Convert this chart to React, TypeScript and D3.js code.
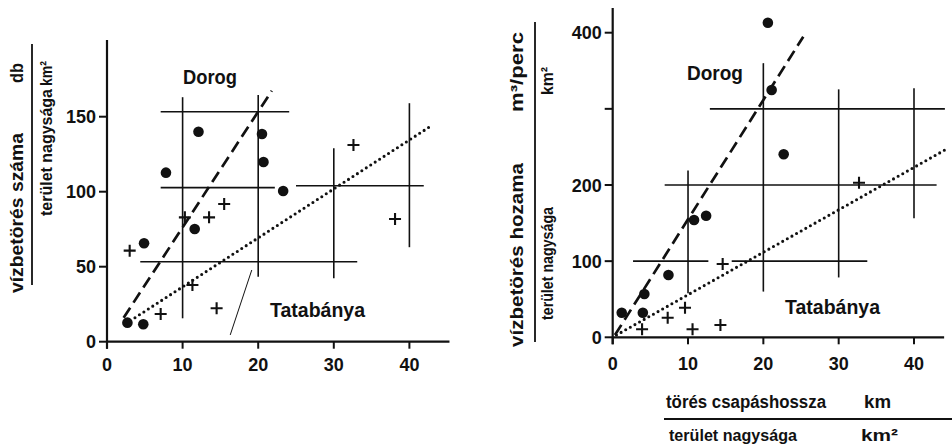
import React from "react";
import * as d3 from "d3";

// ---------- DATA ----------
// Left panel: vízbetörés száma / terület (db/km²) vs törés csapáshossza / terület
const leftDorogX = [12.1, 7.8, 20.5, 20.7, 23.3, 11.6, 4.9, 2.7, 4.8];
const leftDorogY = [140, 112.7, 138.5, 119.8, 100.5, 75.1, 65.6, 12.7, 11.6];
const leftTataX = [3.0, 10.3, 13.5, 15.5, 11.3, 7.1, 14.5, 32.6, 38.1];
const leftTataY = [60.7, 82.9, 82.9, 91.8, 37.8, 18.5, 22.3, 131.1, 81.8];
// regression lines [x1, y1, x2, y2]
const leftDorogLine = [2.2, 16.0, 21.8, 167.3];
const leftTataLine = [3.7, 16.0, 42.6, 143];
// cross-hair segments (value ranges) [x1, y1, x2, y2]
const leftGrid = [
  [7.1, 153.3, 24.1, 153.3],
  [7.1, 102.7, 22.2, 102.7],
  [25, 104, 41.9, 104],
  [4.4, 53.3, 33.1, 53.3],
  [10, 163, 10, 15.6],
  [20, 164.5, 20, 43.3],
  [30, 129, 30, 42.3],
  [40, 159, 40, 63],
];
const leftStray = [19.15, 47.8, 16.3, 4.5];
const leftXTicks = [0, 10, 20, 30, 40];
const leftYTicks = [0, 50, 100, 150];
const leftYTickLabels = ["0", "50", "100", "150"];

// Right panel: vízbetörés hozama / terület (m³/perc / km²)
const rightDorogX = [20.6, 21.1, 22.7, 10.8, 12.4, 7.4, 4.2, 1.2, 4.0];
const rightDorogY = [413, 324.7, 240.3, 154, 159.7, 81.8, 56.9, 32.3, 32.3];
const rightTataX = [3.9, 7.3, 9.6, 10.6, 14.3, 14.6, 32.7];
const rightTataY = [10.5, 25.7, 38.9, 10.5, 16.2, 96.3, 203];
const rightDorogLine = [0.3, 3, 25.3, 394.7];
const rightTataLine = [0.5, 3, 44.1, 246];
const rightGrid = [
  [12.9, 300, 44.1, 300],
  [6.9, 200, 43, 200],
  [2.7, 100, 12.7, 100],
  [15.8, 100, 33.8, 100],
  [10, 219, 10, 58],
  [20, 360, 20, 60],
  [30, 325.6, 30, 78.6],
  [40, 327, 40, 156.5],
];
const rightXTicks = [0, 10, 20, 30, 40];
const rightYTicks = [0, 100, 200, 300, 400];
const rightYTickLabels = ["0", "100", "200", "", "400"];

const FONT = "'Liberation Sans', Arial, Helvetica, sans-serif";

type Panel = {
  x: d3.ScaleLinear<number, number>;
  y: d3.ScaleLinear<number, number>;
  xMax: number;
  yTop: number;
  dotsX: number[];
  dotsY: number[];
  crossX: number[];
  crossY: number[];
  dashed: number[];
  dotted: number[];
  grid: number[][];
  xTicks: number[];
  yTicks: number[];
  yLabels: string[];
  xLabelBaseline: number;
};

function PanelView({ p }: { p: Panel }) {
  const { x, y } = p;
  const x0 = x(0);
  const y0 = y(0);
  const line = d3
    .line<[number, number]>()
    .x((d) => x(d[0]))
    .y((d) => y(d[1]));
  const seg = (s: number[]) =>
    line([
      [s[0], s[1]],
      [s[2], s[3]],
    ]) as string;
  const cs = 6;
  return (
    <g>
      {p.grid.map((s, i) => (
        <path key={"g" + i} d={seg(s)} stroke="#111" strokeWidth={1.6} fill="none" />
      ))}
      <path d={seg(p.dashed)} stroke="#111" strokeWidth={2.7} strokeDasharray="12 6" fill="none" />
      <path
        d={seg(p.dotted)}
        stroke="#111"
        strokeWidth={3.1}
        strokeDasharray="0 5.3"
        strokeLinecap="round"
        fill="none"
      />
      <line x1={x0} x2={x0} y1={p.yTop} y2={y0 + 7} stroke="#111" strokeWidth={2.2} />
      <line x1={x0} x2={x(p.xMax)} y1={y0} y2={y0} stroke="#111" strokeWidth={2.2} />
      {p.yTicks.map((t, i) => (
        <g key={"yt" + i}>
          <line x1={x0 - 8} x2={x0} y1={y(t)} y2={y(t)} stroke="#111" strokeWidth={2} />
          {p.yLabels[i] && (
            <text
              x={x0 - 11}
              y={y(t) + 6.5}
              textAnchor="end"
              fontFamily={FONT}
              fontWeight="bold"
              fontSize={18}
              fill="#111"
            >
              {p.yLabels[i]}
            </text>
          )}
        </g>
      ))}
      {p.xTicks.map((t, i) => (
        <g key={"xt" + i}>
          <line x1={x(t)} x2={x(t)} y1={y0} y2={y0 + 7} stroke="#111" strokeWidth={2} />
          <text
            x={x(t)}
            y={p.xLabelBaseline}
            textAnchor="middle"
            fontFamily={FONT}
            fontWeight="bold"
            fontSize={18}
            fill="#111"
          >
            {String(t)}
          </text>
        </g>
      ))}
      {p.dotsX.map((v, i) => (
        <circle key={"d" + i} cx={x(v)} cy={y(p.dotsY[i])} r={5.3} fill="#111" />
      ))}
      {p.crossX.map((v, i) => {
        const cx = x(v);
        const cy = y(p.crossY[i]);
        return (
          <path
            key={"c" + i}
            d={`M${cx - cs},${cy}H${cx + cs}M${cx},${cy - cs}V${cy + cs}`}
            stroke="#111"
            strokeWidth={2.1}
            fill="none"
          />
        );
      })}
    </g>
  );
}

export default function App() {
  const lx = d3.scaleLinear().domain([0, 40]).range([107, 409.4]);
  const ly = d3.scaleLinear().domain([0, 150]).range([341.7, 116.7]);
  const rx = d3.scaleLinear().domain([0, 40]).range([612.7, 914]);
  const ry = d3.scaleLinear().domain([0, 400]).range([337.3, 32.7]);

  const left: Panel = {
    x: lx,
    y: ly,
    xMax: 45.3,
    yTop: 40,
    dotsX: leftDorogX,
    dotsY: leftDorogY,
    crossX: leftTataX,
    crossY: leftTataY,
    dashed: leftDorogLine,
    dotted: leftTataLine,
    grid: leftGrid,
    xTicks: leftXTicks,
    yTicks: leftYTicks,
    yLabels: leftYTickLabels,
    xLabelBaseline: 371,
  };
  const right: Panel = {
    x: rx,
    y: ry,
    xMax: 44,
    yTop: 8,
    dotsX: rightDorogX,
    dotsY: rightDorogY,
    crossX: rightTataX,
    crossY: rightTataY,
    dashed: rightDorogLine,
    dotted: rightTataLine,
    grid: rightGrid,
    xTicks: rightXTicks,
    yTicks: rightYTicks,
    yLabels: rightYTickLabels,
    xLabelBaseline: 370,
  };

  const strayLine = d3.line<[number, number]>().x((d) => lx(d[0])).y((d) => ly(d[1]))([
    [leftStray[0], leftStray[1]],
    [leftStray[2], leftStray[3]],
  ]) as string;

  const T = (props: any) => (
    <text fontFamily={FONT} fontWeight="bold" fill="#111" {...props} />
  );
  const rot = (xx: number, yy: number) => `translate(${xx},${yy}) rotate(-90)`;

  return (
    <svg
      width={952}
      height={444}
      viewBox="0 0 952 444"
      style={{ position: "absolute", left: 0, top: 0, background: "#fff" }}
    >
      <rect x={0} y={0} width={952} height={444} fill="#fff" />
      <PanelView p={left} />
      <PanelView p={right} />
      <path d={strayLine} stroke="#111" strokeWidth={1} fill="none" />

      <T x={183} y={83.5} fontSize={21} textLength={54} lengthAdjust="spacingAndGlyphs">Dorog</T>
      <T x={270} y={316.5} fontSize={21} textLength={95} lengthAdjust="spacingAndGlyphs">Tatabánya</T>
      <T x={687} y={80} fontSize={21} textLength={56} lengthAdjust="spacingAndGlyphs">Dorog</T>
      <T x={785} y={314} fontSize={21} textLength={95} lengthAdjust="spacingAndGlyphs">Tatabánya</T>

      {/* left y title */}
      <T transform={rot(23, 293)} fontSize={17.5} textLength={160} lengthAdjust="spacingAndGlyphs">vízbetörés száma</T>
      <T transform={rot(23, 83)} fontSize={17.5} textLength={20} lengthAdjust="spacingAndGlyphs">db</T>
      <line x1={32} x2={32} y1={44} y2={285} stroke="#111" strokeWidth={1.8} />
      <T transform={rot(52, 216)} fontSize={17} textLength={127} lengthAdjust="spacingAndGlyphs">terület nagysága</T>
      <T transform={rot(52, 86)} fontSize={17} textLength={25} lengthAdjust="spacingAndGlyphs">km²</T>

      {/* right y title */}
      <T transform={rot(523, 347)} fontSize={17.5} textLength={184} lengthAdjust="spacingAndGlyphs">vízbetörés hozama</T>
      <T transform={rot(523, 112)} fontSize={17.5} textLength={80} lengthAdjust="spacingAndGlyphs">m³/perc</T>
      <line x1={535} x2={535} y1={22} y2={342} stroke="#111" strokeWidth={1.8} />
      <T transform={rot(553, 320)} fontSize={17} textLength={113} lengthAdjust="spacingAndGlyphs">terület nagysága</T>
      <T transform={rot(553, 95)} fontSize={17} textLength={28} lengthAdjust="spacingAndGlyphs">km²</T>

      {/* bottom x title (right panel) */}
      <T x={666} y={408} fontSize={17.5} textLength={160} lengthAdjust="spacingAndGlyphs">törés csapáshossza</T>
      <T x={864} y={408} fontSize={17.5} textLength={27} lengthAdjust="spacingAndGlyphs">km</T>
      <line x1={664} x2={952} y1={419} y2={419} stroke="#111" strokeWidth={1.8} />
      <T x={669} y={441} fontSize={17} textLength={128} lengthAdjust="spacingAndGlyphs">terület nagysága</T>
      <T x={861} y={441} fontSize={17} textLength={37} lengthAdjust="spacingAndGlyphs">km²</T>
    </svg>
  );
}
